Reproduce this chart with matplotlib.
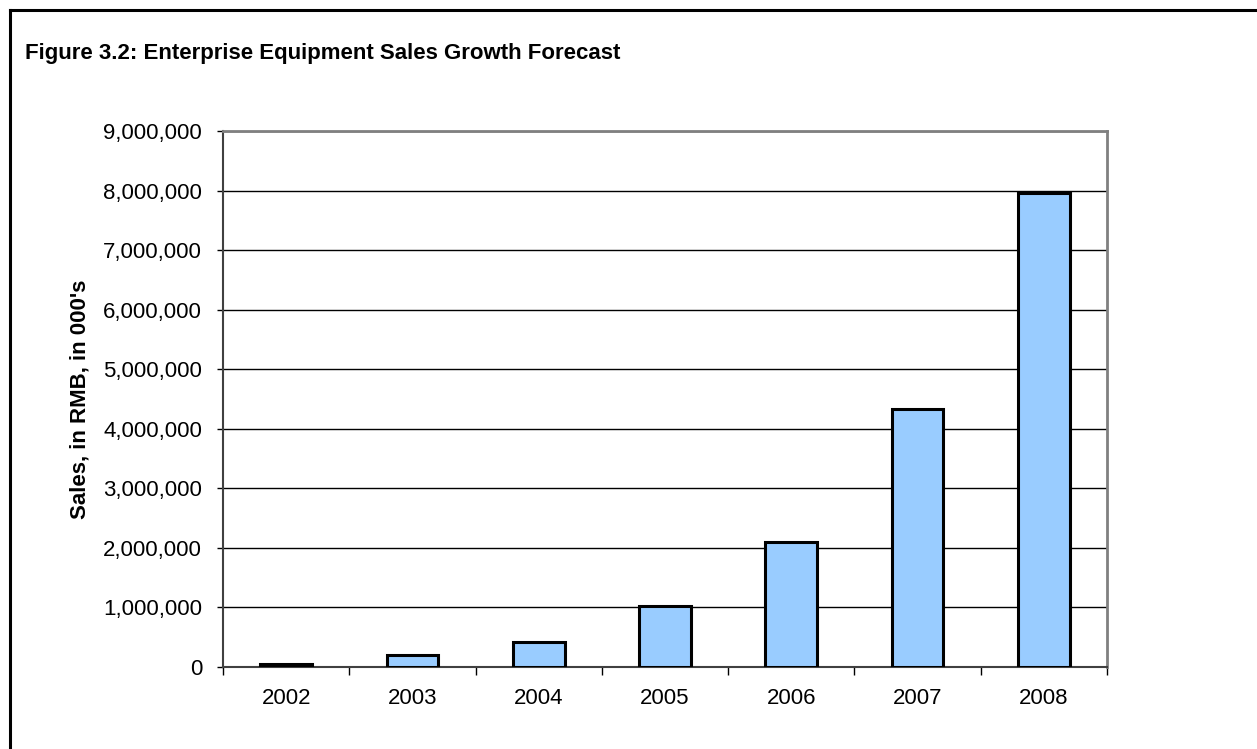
import matplotlib
matplotlib.use("Agg")
import matplotlib.pyplot as plt
from matplotlib.ticker import FuncFormatter, FixedLocator
from matplotlib.lines import Line2D

years = ["2002", "2003", "2004", "2005", "2006", "2007", "2008"]
sales = [45000, 200000, 420000, 1030000, 2100000, 4330000, 7960000]
yticks = [0, 1000000, 2000000, 3000000, 4000000, 5000000, 6000000, 7000000, 8000000, 9000000]

plt.rcParams['font.family'] = ['Liberation Sans', 'DejaVu Sans']

W, H = 1257, 749
fig = plt.figure(figsize=(W / 100, H / 100), dpi=100)
fig.patch.set_facecolor('white')

# outer frame (left and top)
fig.add_artist(Line2D([10 / W, 10 / W], [0, 1 - 10 / H], color='black', lw=2.2, transform=fig.transFigure))
fig.add_artist(Line2D([10 / W, 1], [1 - 10 / H, 1 - 10 / H], color='black', lw=2.2, transform=fig.transFigure))

fig.text(25 / W, 1 - 53 / H, "Figure 3.2: Enterprise Equipment Sales Growth Forecast",
         fontsize=16, fontweight='bold', va='center', ha='left')

left, right, top, bottom = 223, 1107, 131, 667
ax = fig.add_axes([left / W, 1 - bottom / H, (right - left) / W, (bottom - top) / H])

x = list(range(len(years)))
ax.bar(x, sales, width=0.41, color='#99ccff', edgecolor='black', linewidth=2.2, zorder=3)

ax.set_xlim(-0.5, len(years) - 0.5)
ax.set_ylim(0, 9000000)
ax.set_yticks(yticks)
ax.yaxis.set_major_formatter(FuncFormatter(lambda v, p: f"{int(v):,}"))
ax.yaxis.grid(True, color='black', linewidth=1.0, zorder=0)
ax.set_axisbelow(True)

ax.set_xticks(x)
ax.set_xticklabels(years)
ax.xaxis.set_minor_locator(FixedLocator([i - 0.5 for i in range(len(years) + 1)]))
ax.tick_params(axis='x', which='major', length=0, pad=15, labelsize=16)
ax.tick_params(axis='x', which='minor', length=5.5, width=1, direction='out', color='black')
ax.tick_params(axis='y', length=4.5, width=1, direction='out', labelsize=16, pad=10.5, color='black')

ax.spines['left'].set_color('#404040')
ax.spines['left'].set_linewidth(1.5)
ax.spines['bottom'].set_color('#404040')
ax.spines['bottom'].set_linewidth(1.5)
ax.spines['top'].set_color('#808080')
ax.spines['top'].set_linewidth(2)
ax.spines['right'].set_color('#808080')
ax.spines['right'].set_linewidth(2)

fig.text(80 / W, 1 - ((top + bottom) / 2) / H, "Sales, in RMB, in 000's", rotation=90,
         fontsize=16, fontweight='bold', va='center', ha='center')

fig.savefig("out.png", dpi=100, facecolor='white')
